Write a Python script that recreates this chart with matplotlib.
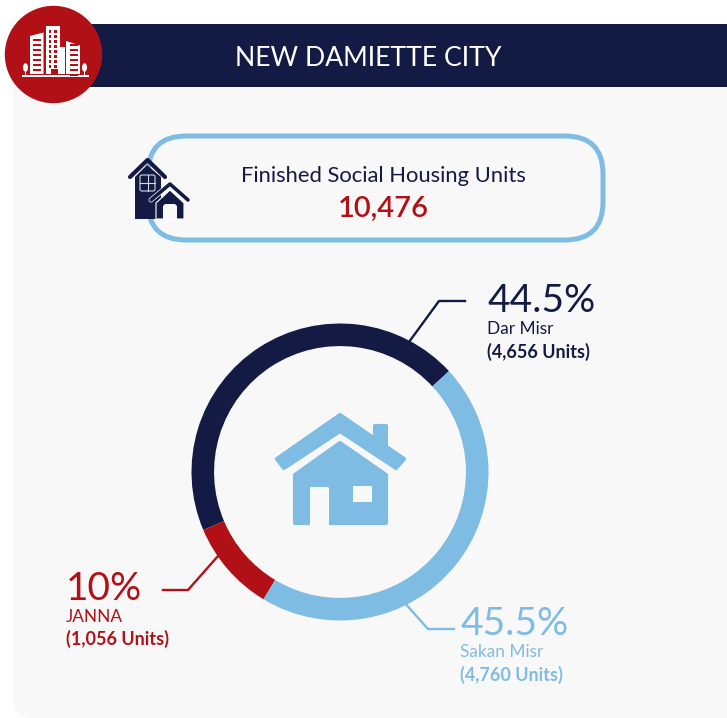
import matplotlib
matplotlib.use("Agg")
import matplotlib.pyplot as plt
from matplotlib.patches import FancyBboxPatch, Circle, Ellipse, Polygon, Rectangle

plt.rcParams['font.family'] = ['Lato', 'DejaVu Sans']

NAVY = '#131a43'
RED = '#b11116'
BLUE = '#7fbce3'
BG = '#f8f8f8'

title = "NEW DAMIETTE CITY"
subtitle = "Finished Social Housing Units"
total = "10,476"
categories = ["Dar Misr", "JANNA", "Sakan Misr"]
shares = [44.5, 10.0, 45.5]
share_labels = ["44.5%", "10%", "45.5%"]
unit_labels = ["(4,656 Units)", "(1,056 Units)", "(4,760 Units)"]
colors = [NAVY, RED, BLUE]

W, H = 727, 718
fig = plt.figure(figsize=(W / 100, H / 100), dpi=100, facecolor='white')
ax = fig.add_axes([0, 0, 1, 1])
ax.set_xlim(0, W)
ax.set_ylim(H, 0)
ax.axis('off')


def rbox(x0, y0, x1, y1, r, **kw):
    p = FancyBboxPatch((x0 + r, y0 + r), x1 - x0 - 2 * r, y1 - y0 - 2 * r,
                       boxstyle=f"round,pad={r},rounding_size={r}", **kw)
    ax.add_patch(p)
    return p


# card and header
rbox(13, 60, 760, 718, 20, fc=BG, ec='none', zorder=1)
rbox(70, 24, 760, 87, 14, fc=NAVY, ec='none', zorder=2)
ax.add_patch(Circle((53.5, 54.5), 48.7, fc=RED, ec='none', zorder=3))
ax.text(368, 59, title, color='white', fontsize=19.2, ha='center', va='center', zorder=4)

# city icon
W_ = dict(fc='white', ec='none', zorder=4)
ax.add_patch(Polygon([(30, 74), (30, 36), (43.5, 32.5), (43.5, 74)], **W_))
ax.add_patch(Rectangle((45.5, 26), 14, 48, **W_))
ax.add_patch(Rectangle((59, 47), 5.5, 27, **W_))
ax.add_patch(Polygon([(66, 74), (66, 41), (80, 45.5), (80, 74)], **W_))
ax.add_patch(Rectangle((22, 74.5), 66.5, 2.5, **W_))
for tx in (25.5, 84.5):
    ax.add_patch(Ellipse((tx, 67.5), 5, 8.5, **W_))
    ax.add_patch(Rectangle((tx - .6, 68), 1.2, 7, **W_))
for y in range(39, 72, 5):
    ax.add_patch(Rectangle((33, y), 8, 1.6, fc=RED, ec='none', zorder=5))
    ax.add_patch(Rectangle((69.5, y + 5), 8, 1.6, fc=RED, ec='none', zorder=5))
for y in range(30, 66, 5):
    for x in (48.5, 54):
        ax.add_patch(Rectangle((x, y), 2.6, 2.6, fc=RED, ec='none', zorder=5))
ax.add_patch(Rectangle((51, 69), 7, 5, fc=RED, ec='none', zorder=5))

# total box
rbox(148, 136, 603, 240, 38, fc='none', ec=BLUE, lw=3.6, zorder=3)
ax.text(383, 176, subtitle, color=NAVY, fontsize=15.8, ha='center', va='center', zorder=4)
ax.text(383, 209, total, color=RED, fontsize=21, fontweight='semibold', ha='center', va='center', zorder=4)

# small house icons
ax.add_patch(Polygon([(135, 177), (147, 165), (161, 177), (161, 219), (135, 219)], fc=NAVY, ec='none', zorder=5))
ax.plot([130, 147.5, 165], [177, 160, 177], color=NAVY, lw=3, solid_capstyle='round', zorder=5)
ax.add_patch(FancyBboxPatch((141, 176), 13, 14, boxstyle="round,pad=1,rounding_size=2",
                            fc=NAVY, ec='#d5d7e0', lw=.8, zorder=6))
ax.plot([147.5, 147.5], [175, 191], color='#d5d7e0', lw=.8, zorder=6)
ax.plot([140, 155], [183, 183], color='#d5d7e0', lw=.8, zorder=6)
ax.add_patch(Polygon([(156, 203), (170, 190), (184, 203), (184, 219), (156, 219)], fc=NAVY, ec='white', lw=.8, zorder=7))
ax.plot([151, 170, 188], [200, 184, 200], color='white', lw=3.6, solid_capstyle='round', zorder=7)
ax.plot([151, 170, 188], [200, 184, 200], color=NAVY, lw=2.6, solid_capstyle='round', zorder=8)
ax.add_patch(Polygon([(163, 219), (163, 206), (165, 204), (175, 204), (177, 206), (177, 219)], fc=BG, ec='none', zorder=8))

# donut
cx, cy, R = 340, 472, 148.5
ax2 = fig.add_axes([(cx - R) / W, 1 - (cy + R) / H, 2 * R / W, 2 * R / H])
ax2.pie(shares, colors=colors, startangle=42.8, counterclock=True, radius=1,
        wedgeprops=dict(width=0.152, edgecolor='none'))
ax2.set_xlim(-1, 1)
ax2.set_ylim(-1, 1)
ax2.set_aspect('equal')
ax2.patch.set_alpha(0)

# leader lines
ax.plot([465, 439, 409], [301, 301, 342], color=NAVY, lw=1.7, zorder=4)
ax.plot([163, 188, 218], [590, 590, 556], color=RED, lw=1.7, zorder=4)
ax.plot([454, 428, 403], [629, 629, 601], color=BLUE, lw=1.7, zorder=4)

# labels
label_pos = [(487, 301, 329, 352), (66, 589, 617, 639), (460, 624, 652, 675)]
for (x, y1, y2, y3), c, s, n, u in zip(label_pos, colors, share_labels, categories, unit_labels):
    ax.text(x, y1, s, color=c, fontsize=28, ha='left', va='center', zorder=4)
    ax.text(x, y2, n, color=c, fontsize=12.4, ha='left', va='center', zorder=4)
    ax.text(x, y3, u, color=c, fontsize=13, fontweight='bold', ha='left', va='center', zorder=4)

# central house
ax.add_patch(FancyBboxPatch((374, 425), 13, 30, boxstyle="round,pad=1,rounding_size=2", fc=BLUE, ec='none', zorder=4))
ax.add_patch(Polygon([(277, 459), (340, 415), (404, 459), (396, 468), (340, 431), (284, 468)],
                     fc=BLUE, ec=BLUE, lw=3, joinstyle='round', zorder=4))
ax.add_patch(Polygon([(295, 475), (340, 443), (386, 475), (386, 523), (295, 523)],
                     fc=BLUE, ec=BLUE, lw=3, joinstyle='round', zorder=4))
ax.add_patch(FancyBboxPatch((311, 488), 17, 40, boxstyle="round,pad=1,rounding_size=1.5", fc=BG, ec='none', zorder=5))
ax.add_patch(Rectangle((353, 486), 19, 16, fc=BG, ec='none', zorder=5))

fig.savefig('out.png', dpi=100, facecolor='white')
